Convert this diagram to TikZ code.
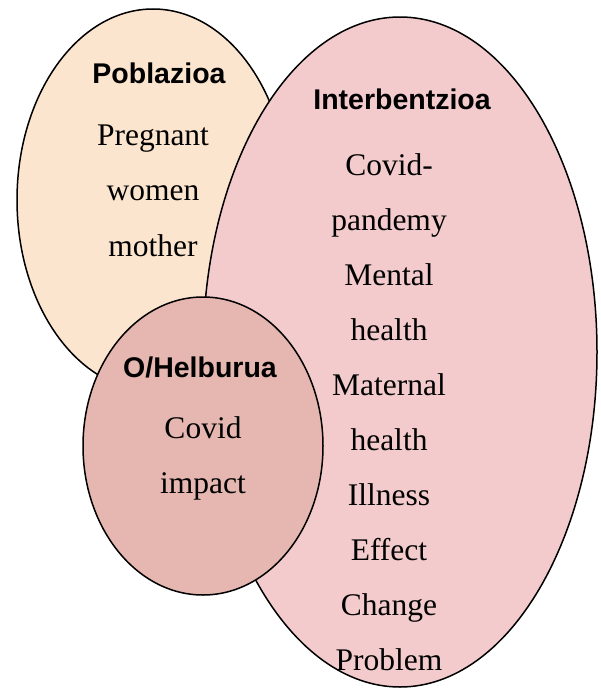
\documentclass[tikz,border=0pt]{standalone}
\usepackage{fontspec}
\setmainfont{Liberation Serif}
\setsansfont{Liberation Sans}
\usepackage{tikz}
\usetikzlibrary{shapes.geometric, positioning}

\definecolor{popfill}{RGB}{252,229,206}
\definecolor{intfill}{RGB}{243,203,204}
\definecolor{objfill}{RGB}{229,183,176}

\begin{document}
\begin{tikzpicture}[
  x=1pt, y=-1pt,
  blob/.style  ={ellipse, draw=black, line width=1.5pt, inner sep=0pt},
  head/.style  ={anchor=north, inner sep=0pt, font=\sffamily\bfseries\fontsize{28.5}{34}\selectfont},
  items/.style ={anchor=north, inner sep=0pt, align=center, font=\fontsize{31.5}{55.1}\selectfont},
]
\useasboundingbox (0,0) rectangle (600,688);

% --- Ellipses ---
\node[blob, fill=popfill, minimum width=272pt, minimum height=382pt] (pop) at (153, 200) {};
\node[blob, fill=intfill, minimum width=394pt, minimum height=670pt] (int) at (400, 352) {};
\node[blob, fill=objfill, minimum width=240pt, minimum height=298pt] (obj) at (203, 446) {};

% --- Poblazioa ---
\node[head]  (pophead) at (159, 63)  {Poblazioa};
\node[items] (popitem) at (153, 125) {Pregnant\\women\\mother};

% --- Interbentzioa ---
\node[head]  (inthead) at (402, 89)  {Interbentzioa};
\node[items] (intitem) at (389, 153) {Covid-\\pandemy\\Mental\\health\\Maternal\\health\\Illness\\Effect\\Change\\Problem};

% --- O/Helburua ---
\node[head]  (objhead) at (200, 357) {O/Helburua};
\node[items] (objitem) at (203, 416) {Covid\\impact};
\end{tikzpicture}
\end{document}
